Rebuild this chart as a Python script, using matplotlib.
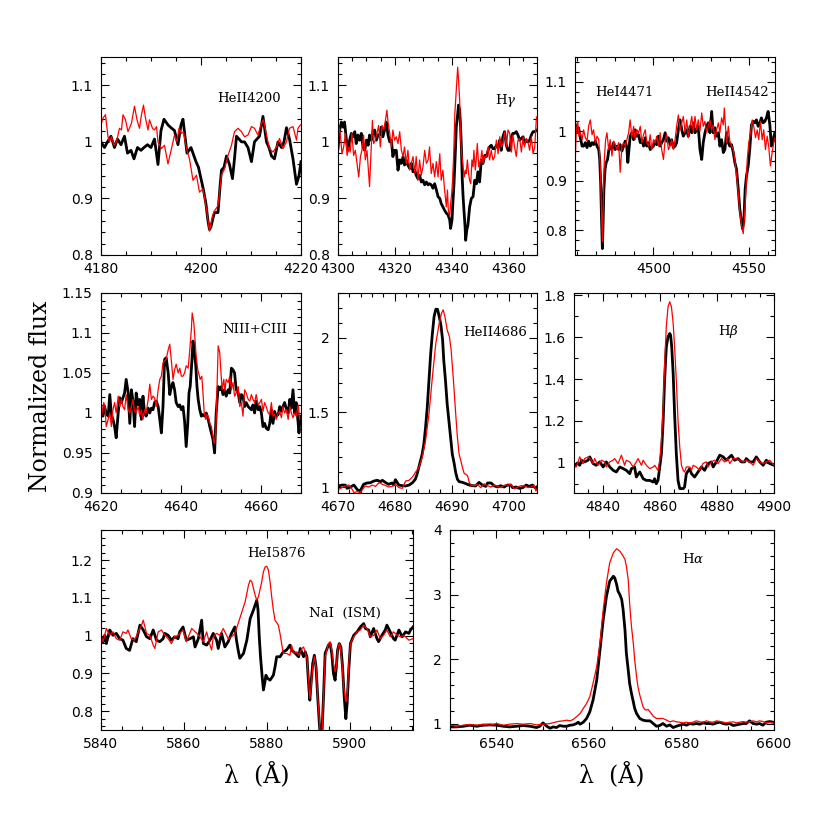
import numpy as np
import matplotlib
matplotlib.use("Agg")
import matplotlib.pyplot as plt
from matplotlib.ticker import MultipleLocator, FuncFormatter

plt.rcParams["mathtext.fontset"] = "dejavuserif"

# (wavelength, normalized flux); black = epoch 1, red = epoch 2
he4200_k = [(4180.0, 1.0), (4180.7, 0.99), (4181.3, 1.0), (4182.0, 1.01), (4182.7, 0.99), (4183.3, 1.005),
            (4184.0, 0.995), (4184.7, 1.01), (4185.3, 0.98), (4186.0, 0.985), (4186.6, 0.97), (4187.3, 0.99),
            (4188.0, 0.985), (4188.6, 0.99), (4189.3, 0.995), (4190.0, 0.99), (4190.7, 1.005), (4191.4, 0.96),
            (4192.0, 1.02), (4192.6, 1.04), (4193.4, 1.03), (4194.0, 1.025), (4194.7, 1.02), (4195.4, 0.995),
            (4196.0, 1.03), (4196.4, 1.04), (4197.2, 0.98), (4198.0, 0.99), (4198.6, 0.975), (4199.0, 0.965),
            (4199.5, 0.955), (4200.0, 0.935), (4200.5, 0.915), (4201.0, 0.89), (4201.4, 0.86), (4201.7, 0.845),
            (4202.0, 0.85), (4202.4, 0.865), (4202.7, 0.875), (4203.4, 0.875), (4203.8, 0.92), (4204.1, 0.95),
            (4204.6, 0.955), (4205.1, 0.975), (4205.7, 0.96), (4206.3, 0.935), (4206.7, 0.97), (4207.1, 1.01),
            (4207.6, 1.005), (4208.1, 1.0), (4208.7, 1.0), (4209.4, 0.99), (4210.1, 0.965), (4210.7, 1.0),
            (4211.2, 1.005), (4211.7, 1.01), (4212.4, 1.045), (4213.1, 1.0), (4213.6, 0.99), (4214.1, 0.975),
            (4214.7, 0.97), (4215.4, 1.0), (4216.1, 0.99), (4216.6, 1.0), (4217.1, 1.025), (4217.7, 1.005),
            (4218.4, 0.97), (4219.1, 0.925), (4219.6, 0.94), (4220.0, 0.965)]
he4200_r = [(4180.0, 1.03), (4180.4, 1.042), (4180.9, 1.048), (4181.4, 1.009), (4181.7, 1.0), (4182.1, 1.009),
            (4182.6, 0.994), (4183.1, 1.0), (4183.7, 1.024), (4184.1, 1.021), (4184.4, 1.048), (4184.9, 1.039),
            (4185.4, 1.018), (4186.1, 1.033), (4186.7, 1.063), (4187.2, 1.039), (4187.7, 1.024), (4188.1, 1.048),
            (4188.5, 1.065), (4188.9, 1.042), (4189.4, 1.021), (4189.7, 1.039), (4190.3, 1.024), (4190.7, 1.021),
            (4191.1, 1.027), (4191.4, 1.0), (4192.1, 0.988), (4192.7, 0.994), (4193.4, 0.961), (4194.1, 0.988),
            (4194.7, 1.012), (4195.2, 1.0), (4195.6, 1.024), (4196.1, 1.015), (4196.5, 1.018), (4197.1, 0.988),
            (4197.7, 0.97), (4198.4, 0.932), (4199.1, 0.941), (4199.7, 0.911), (4200.4, 0.917), (4201.1, 0.881),
            (4201.7, 0.842), (4202.3, 0.869), (4202.7, 0.878), (4203.4, 0.887), (4204.1, 0.941), (4204.7, 0.952),
            (4205.4, 0.976), (4206.1, 0.994), (4206.7, 1.018), (4207.4, 1.024), (4208.1, 1.018), (4208.7, 1.009),
            (4209.4, 1.012), (4210.1, 1.027), (4210.7, 1.024), (4211.4, 1.012), (4212.1, 1.033), (4212.5, 1.039),
            (4213.1, 1.012), (4213.7, 0.988), (4214.4, 0.982), (4215.1, 0.991), (4215.7, 1.006), (4216.4, 0.988),
            (4217.1, 1.0), (4217.7, 1.024), (4218.4, 1.027), (4219.1, 1.003), (4219.4, 1.024), (4219.9, 1.03)]

hg_k = [(4300.0, 0.988), (4300.6, 1.021), (4301.2, 1.035), (4301.8, 1.026), (4302.3, 1.035), (4302.9, 1.006),
        (4303.5, 0.985), (4304.1, 1.003), (4304.7, 1.015), (4305.3, 1.009), (4305.9, 1.018), (4306.4, 0.997),
        (4307.0, 1.012), (4307.6, 1.003), (4308.2, 1.015), (4308.8, 0.991), (4309.4, 0.985), (4310.0, 1.003),
        (4310.6, 0.994), (4311.1, 1.012), (4311.7, 1.003), (4312.3, 1.018), (4312.9, 1.021), (4313.5, 1.003),
        (4314.1, 1.012), (4314.7, 1.012), (4315.2, 1.026), (4315.8, 1.009), (4316.4, 1.021), (4317.0, 1.035),
        (4317.6, 1.012), (4318.2, 1.0), (4318.8, 1.003), (4319.3, 0.974), (4319.9, 0.985), (4320.5, 0.985),
        (4321.1, 0.95), (4321.7, 0.968), (4322.3, 0.962), (4322.9, 0.974), (4323.4, 0.959), (4324.0, 0.968),
        (4324.6, 0.959), (4325.2, 0.953), (4325.8, 0.962), (4326.4, 0.947), (4327.0, 0.95), (4327.5, 0.941),
        (4328.1, 0.935), (4328.7, 0.941), (4329.3, 0.929), (4329.9, 0.932), (4330.5, 0.924), (4331.1, 0.929),
        (4331.7, 0.924), (4332.2, 0.926), (4332.8, 0.924), (4333.4, 0.918), (4334.0, 0.926), (4334.6, 0.915),
        (4335.2, 0.903), (4335.8, 0.9), (4336.3, 0.891), (4336.9, 0.885), (4337.5, 0.879), (4338.1, 0.874),
        (4338.7, 0.871), (4339.3, 0.862), (4339.6, 0.847), (4340.1, 0.862), (4340.4, 0.891), (4340.8, 0.926),
        (4341.3, 0.985), (4341.6, 1.026), (4342.0, 1.044), (4342.4, 1.065), (4342.8, 1.056), (4343.1, 1.029),
        (4343.4, 0.991), (4343.7, 0.935), (4344.0, 0.903), (4344.3, 0.879), (4344.7, 0.85), (4344.9, 0.826),
        (4345.3, 0.844), (4345.7, 0.853), (4346.3, 0.885), (4346.9, 0.9), (4347.5, 0.903), (4348.1, 0.932),
        (4348.7, 0.926), (4349.2, 0.947), (4349.8, 0.929), (4350.4, 0.968), (4351.0, 0.962), (4351.6, 0.976),
        (4352.2, 0.974), (4352.8, 0.985), (4353.3, 0.991), (4353.9, 0.994), (4354.5, 0.988), (4355.1, 0.988),
        (4355.7, 0.994), (4356.3, 0.991), (4356.9, 1.003), (4357.4, 0.985), (4358.0, 1.009), (4358.6, 1.018),
        (4359.2, 0.994), (4359.8, 0.985), (4360.4, 0.985), (4361.0, 1.009), (4361.5, 1.015), (4362.1, 1.015),
        (4362.7, 1.018), (4363.3, 1.012), (4363.9, 1.003), (4364.5, 1.006), (4365.1, 1.009), (4365.6, 0.997),
        (4366.2, 1.003), (4366.8, 1.0), (4367.4, 1.003), (4368.0, 1.012), (4368.6, 1.018), (4369.2, 1.018),
        (4370.0, 1.021)]
hg_r = [(4300.0, 0.985), (4300.4, 1.026), (4300.8, 1.015), (4301.4, 0.979), (4302.0, 0.991), (4302.6, 1.015),
        (4303.2, 0.976), (4303.8, 0.991), (4304.3, 0.982), (4304.9, 1.015), (4305.5, 0.976), (4306.1, 0.985),
        (4306.7, 0.962), (4307.3, 0.938), (4307.9, 0.974), (4308.4, 0.985), (4309.0, 1.012), (4309.6, 0.968),
        (4310.2, 0.985), (4310.8, 0.941), (4311.1, 0.921), (4311.5, 0.968), (4312.1, 1.038), (4312.5, 0.997),
        (4313.1, 1.003), (4313.7, 1.015), (4314.3, 1.029), (4314.9, 0.991), (4315.5, 1.029), (4316.1, 1.021),
        (4316.6, 1.035), (4317.2, 1.056), (4317.6, 1.035), (4318.2, 1.015), (4318.8, 0.991), (4319.3, 1.021),
        (4319.9, 1.003), (4320.5, 1.009), (4321.1, 0.997), (4321.7, 1.018), (4322.3, 0.985), (4322.9, 0.974),
        (4323.4, 0.991), (4324.0, 0.962), (4324.6, 0.985), (4325.2, 0.95), (4325.8, 0.962), (4326.4, 0.974),
        (4327.0, 0.944), (4327.5, 0.974), (4328.1, 0.932), (4328.7, 0.968), (4329.3, 0.941), (4329.9, 0.956),
        (4330.5, 0.985), (4331.1, 0.962), (4331.7, 0.968), (4332.2, 0.991), (4332.8, 0.944), (4333.4, 0.962),
        (4334.0, 0.938), (4334.6, 0.965), (4335.2, 0.938), (4335.8, 0.979), (4336.3, 0.932), (4336.9, 0.95),
        (4337.5, 0.915), (4338.1, 0.885), (4338.5, 0.915), (4338.8, 0.879), (4339.3, 0.868), (4339.6, 0.891),
        (4340.0, 0.909), (4340.3, 0.932), (4340.7, 0.979), (4341.1, 1.05), (4341.6, 1.091), (4342.1, 1.132),
        (4342.4, 1.109), (4342.8, 1.074), (4343.1, 1.009), (4343.5, 0.979), (4344.0, 0.956), (4344.4, 0.938),
        (4344.8, 0.95), (4345.1, 0.944), (4345.5, 0.968), (4346.0, 0.941), (4346.3, 0.932), (4346.7, 0.926),
        (4347.1, 0.968), (4347.5, 0.956), (4347.8, 0.985), (4348.3, 0.95), (4348.7, 0.974), (4349.0, 0.997),
        (4349.5, 0.956), (4349.8, 0.962), (4350.2, 0.968), (4350.6, 0.985), (4351.0, 0.962), (4351.6, 0.974),
        (4352.2, 0.974), (4352.8, 0.991), (4353.3, 0.968), (4353.9, 0.985), (4354.5, 0.968), (4355.1, 0.974),
        (4355.7, 1.003), (4356.3, 0.979), (4356.9, 1.009), (4357.4, 0.991), (4358.0, 0.997), (4358.6, 1.018),
        (4359.2, 0.991), (4359.8, 1.021), (4360.4, 1.015), (4361.0, 0.982), (4361.5, 1.012), (4362.1, 0.991),
        (4362.7, 0.974), (4363.3, 1.003), (4363.9, 1.006), (4364.5, 0.982), (4365.1, 1.009), (4365.6, 0.991),
        (4366.2, 1.006), (4366.8, 1.0), (4367.4, 0.985), (4368.0, 1.009), (4368.6, 0.979), (4369.2, 0.991),
        (4369.8, 1.044)]

he4471_k = [(4459.2, 1.013), (4460.1, 0.997), (4460.9, 1.007), (4461.8, 0.987), (4462.7, 0.97), (4463.5, 0.97),
            (4464.4, 0.977), (4465.3, 0.967), (4466.1, 0.98), (4467.0, 0.97), (4467.9, 0.977), (4468.7, 0.973),
            (4469.6, 0.98), (4470.5, 0.97), (4471.4, 0.963), (4471.9, 0.943), (4472.4, 0.897), (4472.9, 0.817),
            (4473.3, 0.763), (4473.6, 0.803), (4474.1, 0.883), (4474.7, 0.923), (4475.3, 0.937), (4476.0, 0.943),
            (4476.7, 0.963), (4477.4, 0.97), (4478.3, 0.963), (4479.2, 0.977), (4480.0, 0.963), (4480.9, 0.97),
            (4481.8, 0.963), (4482.6, 0.973), (4483.5, 0.96), (4484.4, 0.97), (4485.2, 0.98), (4486.1, 0.967),
            (4486.6, 0.937), (4487.2, 0.963), (4487.8, 0.99), (4488.7, 0.997), (4489.6, 0.983), (4490.4, 1.003),
            (4491.3, 0.99), (4492.2, 0.993), (4493.1, 0.977), (4493.9, 0.983), (4494.8, 0.97), (4495.7, 0.987),
            (4496.5, 0.97), (4497.4, 0.977), (4498.3, 0.963), (4499.1, 0.967), (4500.0, 0.97), (4500.9, 0.98),
            (4501.7, 0.973), (4502.6, 0.99), (4503.5, 0.97), (4504.3, 0.977), (4505.2, 0.983), (4506.1, 0.997),
            (4506.9, 0.98), (4507.8, 0.987), (4508.7, 0.973), (4509.5, 0.983), (4510.4, 0.967), (4511.3, 0.97),
            (4512.1, 0.977), (4513.0, 1.003), (4513.9, 1.023), (4514.8, 1.003), (4515.6, 0.99), (4516.5, 0.997),
            (4517.4, 1.003), (4518.2, 0.99), (4519.1, 1.01), (4520.0, 0.997), (4520.8, 1.017), (4521.7, 0.997),
            (4522.6, 1.003), (4523.4, 1.01), (4524.3, 0.963), (4525.2, 0.943), (4526.0, 0.977), (4526.9, 0.997),
            (4527.8, 1.01), (4528.6, 1.017), (4529.5, 0.997), (4530.4, 1.04), (4531.2, 0.997), (4532.1, 1.007),
            (4533.0, 0.99), (4533.9, 0.997), (4534.7, 0.97), (4535.6, 0.983), (4536.5, 0.957), (4537.3, 0.963),
            (4538.2, 0.997), (4539.1, 0.977), (4539.9, 0.97), (4540.8, 0.973), (4541.7, 0.957), (4542.5, 0.937),
            (4543.4, 0.923), (4544.3, 0.883), (4545.1, 0.843), (4546.0, 0.817), (4546.5, 0.803), (4547.2, 0.817),
            (4547.9, 0.883), (4548.6, 0.91), (4549.5, 0.93), (4550.3, 0.963), (4551.2, 1.013), (4552.1, 1.02),
            (4552.9, 1.017), (4553.8, 1.023), (4554.7, 1.01), (4555.6, 1.017), (4556.4, 1.027), (4557.3, 1.017),
            (4558.2, 1.02), (4559.0, 1.027), (4559.9, 1.04), (4560.8, 1.013), (4561.6, 0.97), (4562.5, 0.983),
            (4563.4, 0.997)]
he4471_r = [(4459.2, 0.95), (4459.7, 1.003), (4460.4, 1.02), (4461.1, 0.99), (4461.8, 0.997), (4462.7, 0.983),
            (4463.5, 1.003), (4464.4, 0.987), (4465.3, 0.98), (4466.1, 1.01), (4467.0, 1.023), (4467.9, 0.993),
            (4468.7, 1.003), (4469.6, 0.977), (4470.5, 0.99), (4471.4, 0.983), (4472.2, 0.93), (4472.7, 0.863),
            (4473.3, 0.777), (4473.8, 0.857), (4474.3, 0.943), (4475.0, 0.983), (4475.7, 0.997), (4476.6, 0.963),
            (4477.4, 0.983), (4478.3, 0.95), (4479.2, 0.98), (4480.0, 0.973), (4480.9, 0.963), (4481.8, 0.977),
            (4482.6, 0.917), (4483.5, 0.97), (4484.4, 0.977), (4485.2, 0.97), (4486.1, 0.983), (4487.0, 0.997),
            (4487.8, 1.023), (4488.7, 0.987), (4489.6, 1.01), (4490.4, 0.983), (4491.3, 1.003), (4492.2, 0.997),
            (4493.1, 1.01), (4493.9, 0.977), (4494.8, 0.993), (4495.7, 1.003), (4496.5, 0.977), (4497.4, 0.97),
            (4498.3, 0.993), (4499.1, 0.963), (4500.0, 0.983), (4500.9, 0.977), (4501.7, 0.99), (4502.6, 0.97),
            (4503.5, 0.997), (4504.3, 0.963), (4505.2, 0.943), (4506.1, 0.983), (4506.9, 0.993), (4507.8, 0.963),
            (4508.7, 0.97), (4509.5, 0.983), (4510.4, 0.963), (4511.3, 0.983), (4512.1, 1.01), (4513.0, 1.033),
            (4513.9, 1.003), (4514.8, 1.017), (4515.6, 1.03), (4516.5, 0.997), (4517.4, 1.023), (4518.2, 0.987),
            (4519.1, 1.01), (4520.0, 1.03), (4520.8, 0.997), (4521.7, 1.03), (4522.6, 1.003), (4523.4, 1.023),
            (4524.3, 1.0), (4525.2, 1.037), (4526.0, 1.01), (4526.9, 1.02), (4527.8, 0.997), (4528.6, 1.01),
            (4529.5, 1.023), (4530.4, 1.003), (4531.2, 1.013), (4532.1, 0.983), (4533.0, 1.003), (4533.9, 1.017),
            (4534.7, 0.997), (4535.6, 1.027), (4536.5, 1.013), (4537.0, 1.047), (4537.5, 1.017), (4538.2, 0.977),
            (4539.1, 1.01), (4539.9, 0.98), (4540.8, 0.97), (4541.7, 0.963), (4542.5, 0.943), (4543.4, 0.91),
            (4544.3, 0.877), (4545.1, 0.837), (4546.0, 0.81), (4546.9, 0.793), (4547.6, 0.83), (4548.3, 0.883),
            (4549.0, 0.943), (4549.8, 0.977), (4550.7, 0.997), (4551.6, 1.023), (4552.4, 1.01), (4553.3, 0.987),
            (4554.2, 1.003), (4555.0, 0.983), (4555.9, 1.02), (4556.8, 0.983), (4557.6, 1.003), (4558.5, 0.963),
            (4559.4, 0.99), (4560.2, 0.97), (4561.1, 0.93), (4562.0, 0.957), (4562.9, 0.977), (4563.4, 0.987)]

niii_k = [(4620.0, 1.0), (4620.5, 0.996), (4620.9, 1.008), (4621.3, 1.0), (4621.8, 0.996), (4622.2, 1.023),
          (4622.6, 0.998), (4623.0, 0.992), (4623.4, 0.983), (4623.8, 0.969), (4624.3, 1.0), (4624.7, 1.019),
          (4625.1, 1.013), (4625.5, 1.019), (4625.9, 1.025), (4626.3, 1.042), (4626.8, 1.025), (4627.2, 0.987),
          (4627.6, 1.029), (4628.0, 1.015), (4628.4, 0.983), (4628.8, 1.025), (4629.3, 1.01), (4629.7, 1.017),
          (4630.1, 0.992), (4630.5, 1.021), (4630.9, 1.0), (4631.3, 0.996), (4631.8, 1.006), (4632.2, 1.0),
          (4632.6, 1.006), (4633.0, 1.004), (4633.4, 1.013), (4633.8, 1.015), (4634.3, 1.008), (4634.7, 0.992),
          (4635.1, 0.975), (4635.5, 1.008), (4635.9, 1.067), (4636.3, 1.069), (4636.8, 1.05), (4637.2, 1.023),
          (4637.6, 1.033), (4638.0, 1.038), (4638.4, 1.029), (4638.8, 1.013), (4639.3, 1.008), (4639.7, 1.01),
          (4640.1, 1.004), (4640.5, 1.008), (4640.9, 0.99), (4641.3, 0.958), (4641.7, 0.987), (4642.0, 1.025),
          (4642.3, 1.033), (4642.7, 1.063), (4643.0, 1.09), (4643.3, 1.079), (4643.7, 1.059), (4644.0, 1.033),
          (4644.3, 1.017), (4644.7, 1.004), (4645.1, 0.996), (4645.5, 0.998), (4645.9, 0.996), (4646.3, 1.0),
          (4646.8, 0.992), (4647.2, 0.983), (4647.6, 0.975), (4648.0, 0.967), (4648.4, 0.95), (4648.8, 1.0),
          (4649.3, 1.033), (4649.7, 1.029), (4650.1, 1.033), (4650.5, 1.023), (4650.9, 1.029), (4651.3, 1.021),
          (4651.8, 1.029), (4652.2, 1.025), (4652.6, 1.056), (4653.0, 1.054), (4653.4, 1.05), (4653.8, 1.029),
          (4654.3, 1.025), (4654.7, 1.013), (4655.1, 1.023), (4655.5, 1.021), (4655.9, 1.008), (4656.3, 1.013),
          (4656.8, 1.008), (4657.2, 1.006), (4657.6, 1.004), (4658.0, 1.01), (4658.4, 1.0), (4658.8, 1.015),
          (4659.3, 1.004), (4659.7, 1.008), (4660.1, 1.0), (4660.5, 0.983), (4660.9, 0.987), (4661.3, 0.981),
          (4661.8, 0.979), (4662.2, 0.987), (4662.6, 1.004), (4663.0, 0.987), (4663.4, 1.002), (4663.8, 0.996),
          (4664.3, 0.998), (4664.7, 1.008), (4665.1, 1.002), (4665.5, 1.008), (4665.9, 1.013), (4666.3, 1.006),
          (4666.8, 1.0), (4667.2, 1.017), (4667.6, 1.006), (4668.0, 1.029), (4668.4, 1.0), (4668.8, 1.013),
          (4669.3, 0.987), (4669.5, 0.975), (4669.8, 0.996)]
niii_r = [(4620.0, 0.99), (4620.3, 1.002), (4620.7, 1.013), (4621.0, 1.008), (4621.3, 0.983), (4621.8, 0.992),
          (4622.2, 1.0), (4622.6, 0.983), (4623.0, 1.004), (4623.4, 1.013), (4623.8, 1.0), (4624.3, 1.021),
          (4624.7, 1.008), (4625.1, 1.017), (4625.5, 1.008), (4625.9, 1.004), (4626.3, 1.023), (4626.8, 1.004),
          (4627.2, 1.0), (4627.6, 1.008), (4628.0, 1.017), (4628.4, 1.002), (4628.8, 1.0), (4629.3, 1.008),
          (4629.7, 0.996), (4630.1, 1.004), (4630.5, 0.992), (4630.9, 1.004), (4631.3, 1.0), (4631.8, 1.017),
          (4632.2, 1.036), (4632.6, 1.017), (4633.0, 1.021), (4633.4, 1.019), (4633.8, 1.008), (4634.3, 1.029),
          (4634.7, 1.042), (4635.1, 1.046), (4635.5, 1.063), (4635.9, 1.065), (4636.3, 1.067), (4636.8, 1.079),
          (4637.2, 1.086), (4637.6, 1.065), (4638.0, 1.042), (4638.4, 1.054), (4638.8, 1.061), (4639.3, 1.05),
          (4639.7, 1.056), (4640.1, 1.046), (4640.5, 1.046), (4640.9, 1.05), (4641.3, 1.059), (4641.8, 1.056),
          (4642.2, 1.079), (4642.6, 1.105), (4642.8, 1.125), (4643.2, 1.113), (4643.5, 1.092), (4643.8, 1.071),
          (4644.2, 1.054), (4644.5, 1.048), (4644.8, 1.042), (4645.2, 1.046), (4645.5, 1.025), (4645.8, 1.0),
          (4646.2, 0.992), (4646.5, 0.998), (4646.8, 0.996), (4647.2, 0.987), (4647.6, 0.983), (4648.0, 0.971),
          (4648.3, 0.962), (4648.7, 0.975), (4649.0, 1.029), (4649.3, 1.084), (4649.7, 1.075), (4650.0, 1.05),
          (4650.3, 1.029), (4650.7, 1.042), (4651.0, 1.027), (4651.3, 1.042), (4651.8, 1.038), (4652.2, 1.046),
          (4652.6, 1.029), (4653.0, 1.038), (4653.4, 1.021), (4653.8, 1.025), (4654.3, 1.033), (4654.7, 1.008),
          (4655.1, 1.013), (4655.5, 0.996), (4655.9, 1.029), (4656.3, 1.025), (4656.8, 1.017), (4657.2, 1.015),
          (4657.6, 1.023), (4658.0, 1.017), (4658.4, 1.013), (4658.8, 1.023), (4659.3, 1.01), (4659.7, 1.013),
          (4660.1, 1.017), (4660.5, 1.002), (4660.9, 1.013), (4661.3, 1.008), (4661.8, 1.0), (4662.2, 0.998),
          (4662.6, 1.013), (4663.0, 0.996), (4663.4, 0.998), (4663.8, 0.992), (4664.3, 1.0), (4664.7, 1.002),
          (4665.1, 0.994), (4665.5, 1.008), (4665.9, 1.0), (4666.3, 1.004), (4666.8, 0.992), (4667.2, 1.008),
          (4667.6, 1.0), (4668.0, 0.994), (4668.4, 1.0), (4668.8, 0.996), (4669.3, 1.01), (4669.7, 0.992)]

he4686_k = [(4670.1, 1.007), (4670.7, 1.013), (4671.3, 1.013), (4671.6, 0.991), (4672.2, 1.0), (4672.8, 1.013),
            (4673.4, 0.982), (4673.9, 0.973), (4674.5, 1.018), (4675.1, 1.027), (4675.7, 1.029), (4676.3, 1.04),
            (4676.9, 1.045), (4677.5, 1.036), (4677.8, 1.045), (4678.4, 1.029), (4678.9, 1.018), (4679.5, 1.027),
            (4679.8, 1.013), (4680.1, 1.049), (4680.7, 1.013), (4681.3, 1.009), (4681.9, 1.007), (4682.5, 1.013),
            (4683.1, 1.029), (4683.6, 1.052), (4683.9, 1.085), (4684.2, 1.13), (4684.5, 1.175), (4684.8, 1.22),
            (4685.1, 1.288), (4685.4, 1.4), (4685.7, 1.535), (4686.0, 1.715), (4686.3, 1.894), (4686.6, 2.029),
            (4686.9, 2.142), (4687.2, 2.191), (4687.5, 2.191), (4687.6, 2.175), (4687.8, 2.142), (4688.1, 2.085),
            (4688.4, 1.984), (4688.6, 1.849), (4688.9, 1.715), (4689.2, 1.557), (4689.5, 1.445), (4689.8, 1.333),
            (4690.1, 1.22), (4690.4, 1.164), (4690.7, 1.097), (4691.0, 1.052), (4691.3, 1.036), (4691.9, 1.031),
            (4692.5, 1.022), (4693.1, 1.013), (4693.6, 1.009), (4694.2, 1.007), (4694.8, 1.031), (4695.4, 1.013),
            (4696.0, 1.004), (4696.3, 1.027), (4696.9, 1.027), (4697.5, 1.007), (4698.1, 1.0), (4698.6, 1.009),
            (4699.2, 1.0), (4699.8, 1.013), (4700.4, 1.013), (4700.7, 0.996), (4701.3, 1.0), (4701.9, 0.991),
            (4702.5, 0.996), (4703.1, 1.013), (4703.6, 1.004), (4704.2, 1.013), (4704.8, 0.991), (4705.2, 1.009)]
he4686_r = [(4670.1, 0.984), (4670.7, 0.996), (4671.3, 1.007), (4671.9, 1.013), (4672.2, 1.0), (4672.5, 0.984),
            (4672.8, 0.962), (4673.4, 0.969), (4673.9, 0.962), (4674.2, 0.978), (4674.8, 1.007), (4675.4, 1.0),
            (4676.0, 1.013), (4676.6, 1.004), (4677.2, 1.029), (4677.8, 1.018), (4678.4, 1.009), (4678.9, 1.0),
            (4679.5, 1.004), (4680.1, 1.018), (4680.7, 0.996), (4681.3, 0.991), (4681.9, 1.04), (4682.5, 1.045),
            (4683.1, 1.067), (4683.6, 1.097), (4684.2, 1.13), (4684.8, 1.198), (4685.4, 1.31), (4686.0, 1.49),
            (4686.6, 1.737), (4687.2, 1.962), (4687.8, 2.097), (4688.2, 2.164), (4688.5, 2.187), (4688.8, 2.142),
            (4689.2, 2.052), (4689.6, 2.007), (4689.9, 1.917), (4690.3, 1.715), (4690.7, 1.49), (4691.0, 1.333),
            (4691.3, 1.22), (4691.6, 1.175), (4691.9, 1.13), (4692.2, 1.09), (4692.5, 1.085), (4692.8, 1.074),
            (4693.1, 1.029), (4693.4, 1.013), (4693.9, 1.007), (4694.5, 1.018), (4695.1, 0.996), (4695.7, 1.022),
            (4696.3, 1.009), (4696.9, 1.0), (4697.5, 1.013), (4698.1, 1.004), (4698.6, 0.996), (4699.2, 1.011),
            (4699.8, 1.013), (4700.4, 1.018), (4701.0, 0.987), (4701.6, 1.0), (4702.2, 1.009), (4702.8, 1.007),
            (4703.4, 0.996), (4703.9, 1.0), (4704.5, 1.013), (4704.8, 0.973), (4705.2, 1.0)]

hb_k = [(4830.0, 0.981), (4831.2, 1.0), (4832.0, 0.989), (4832.6, 1.013), (4833.7, 1.005), (4834.9, 1.013),
        (4835.5, 1.029), (4836.7, 0.997), (4837.8, 0.989), (4839.0, 1.005), (4840.2, 0.981), (4841.3, 1.005),
        (4842.5, 0.981), (4843.7, 0.965), (4844.8, 0.957), (4846.0, 0.981), (4847.2, 0.973), (4848.3, 0.965),
        (4849.5, 0.949), (4850.1, 0.973), (4851.2, 0.981), (4851.8, 0.933), (4853.0, 0.957), (4854.2, 0.925),
        (4855.3, 0.917), (4856.5, 0.917), (4857.7, 0.909), (4858.2, 0.925), (4858.8, 0.901), (4859.4, 0.917),
        (4860.0, 0.981), (4860.6, 1.045), (4861.2, 1.203), (4861.7, 1.394), (4862.3, 1.553), (4862.9, 1.601),
        (4863.5, 1.617), (4863.8, 1.609), (4864.2, 1.553), (4864.7, 1.426), (4865.2, 1.235), (4865.8, 1.045),
        (4866.4, 0.917), (4867.0, 0.878), (4868.2, 0.878), (4868.7, 0.886), (4869.3, 0.949), (4870.5, 0.973),
        (4871.1, 0.949), (4872.2, 0.933), (4873.4, 0.957), (4874.6, 0.981), (4875.7, 0.965), (4876.9, 0.997),
        (4878.1, 1.005), (4878.7, 0.981), (4879.8, 1.005), (4881.0, 1.037), (4882.2, 1.029), (4883.3, 1.013),
        (4884.5, 1.029), (4885.1, 1.037), (4886.2, 1.013), (4887.4, 1.021), (4888.6, 1.005), (4889.7, 1.005),
        (4890.3, 1.021), (4891.5, 1.005), (4892.7, 1.005), (4893.8, 1.029), (4895.0, 1.005), (4896.2, 0.989),
        (4897.3, 1.013), (4898.5, 0.997), (4900.0, 0.989)]
hb_r = [(4830.0, 0.989), (4830.8, 0.981), (4832.0, 1.029), (4833.2, 0.997), (4833.7, 1.021), (4834.9, 1.029),
        (4836.1, 1.013), (4836.7, 0.997), (4837.2, 1.021), (4838.4, 0.989), (4839.6, 1.013), (4840.7, 1.005),
        (4841.3, 0.981), (4842.5, 1.005), (4843.7, 1.013), (4844.2, 1.021), (4845.4, 0.997), (4846.6, 1.037),
        (4847.7, 0.989), (4848.3, 1.013), (4849.5, 1.005), (4850.7, 0.981), (4851.8, 1.005), (4852.4, 1.021),
        (4853.6, 0.989), (4854.2, 1.013), (4855.3, 0.989), (4856.5, 0.973), (4857.7, 0.981), (4858.2, 0.989),
        (4859.4, 0.965), (4860.0, 1.013), (4860.6, 1.108), (4861.2, 1.267), (4861.7, 1.474), (4862.3, 1.649),
        (4862.9, 1.744), (4863.5, 1.768), (4864.1, 1.744), (4864.7, 1.665), (4865.2, 1.553), (4865.8, 1.394),
        (4866.4, 1.203), (4867.0, 1.076), (4867.6, 0.989), (4868.2, 0.965), (4868.7, 0.957), (4869.3, 0.981),
        (4870.5, 0.981), (4871.1, 0.965), (4871.7, 0.989), (4872.8, 0.981), (4874.0, 0.965), (4875.1, 0.997),
        (4876.3, 1.005), (4876.9, 0.981), (4878.1, 1.005), (4879.2, 1.013), (4880.4, 0.997), (4881.6, 1.021),
        (4882.7, 1.005), (4883.9, 1.021), (4884.5, 0.997), (4885.7, 1.021), (4886.8, 1.021), (4888.0, 1.013),
        (4889.2, 1.005), (4890.3, 1.013), (4891.5, 1.005), (4892.7, 0.989), (4893.8, 1.021), (4895.0, 1.005),
        (4896.2, 0.997), (4897.3, 1.005), (4898.5, 1.013), (4900.0, 0.989)]

he5876_k = [(5840.0, 0.997), (5840.5, 0.984), (5840.9, 1.001), (5841.3, 0.979), (5842.1, 1.015), (5842.9, 1.001),
            (5843.7, 1.006), (5844.5, 0.992), (5845.3, 0.988), (5846.1, 0.966), (5846.9, 0.961), (5847.7, 0.992),
            (5848.5, 0.984), (5849.4, 1.028), (5850.2, 1.015), (5851.0, 0.997), (5851.8, 0.992), (5852.6, 1.015),
            (5853.4, 0.988), (5854.2, 0.984), (5855.0, 0.992), (5855.4, 1.006), (5856.2, 1.001), (5857.0, 0.988),
            (5857.8, 0.997), (5858.6, 0.992), (5859.0, 1.01), (5859.8, 1.023), (5860.6, 0.988), (5861.5, 0.992),
            (5862.3, 0.997), (5862.7, 0.97), (5863.5, 0.992), (5864.3, 1.041), (5864.7, 0.979), (5865.5, 0.975),
            (5866.3, 0.988), (5867.1, 1.006), (5867.9, 0.988), (5868.3, 0.966), (5869.1, 1.006), (5869.9, 0.97),
            (5870.7, 0.984), (5871.5, 1.006), (5872.3, 1.023), (5872.7, 0.988), (5873.1, 0.962), (5873.5, 0.94),
            (5874.4, 0.953), (5875.2, 0.988), (5876.0, 1.045), (5876.8, 1.068), (5877.6, 1.094), (5877.9, 1.068),
            (5878.2, 0.997), (5878.5, 0.944), (5878.9, 0.891), (5879.2, 0.856), (5879.5, 0.873), (5879.8, 0.895),
            (5880.2, 0.887), (5880.8, 0.882), (5881.6, 0.895), (5882.0, 0.917), (5882.4, 0.944), (5883.2, 0.944),
            (5884.0, 0.957), (5884.8, 0.962), (5885.6, 0.975), (5886.0, 0.962), (5886.9, 0.953), (5887.7, 0.944),
            (5888.1, 0.966), (5888.9, 0.944), (5889.3, 0.957), (5889.7, 0.944), (5890.1, 0.873), (5890.4, 0.829),
            (5890.7, 0.873), (5891.1, 0.926), (5891.5, 0.948), (5891.9, 0.917), (5892.3, 0.838), (5892.7, 0.767),
            (5893.0, 0.723), (5893.3, 0.732), (5893.7, 0.838), (5894.1, 0.953), (5894.9, 0.975), (5895.3, 0.979),
            (5895.7, 0.953), (5896.1, 0.9), (5896.5, 0.882), (5896.8, 0.917), (5897.1, 0.962), (5897.5, 0.979),
            (5897.9, 0.97), (5898.3, 0.917), (5898.7, 0.838), (5899.1, 0.78), (5899.4, 0.82), (5899.8, 0.909),
            (5900.2, 0.979), (5901.0, 1.001), (5901.8, 1.01), (5902.6, 1.023), (5903.4, 1.032), (5903.8, 1.019),
            (5904.6, 1.015), (5905.0, 0.997), (5905.8, 1.019), (5906.6, 0.992), (5907.0, 0.984), (5907.8, 1.001),
            (5908.6, 1.015), (5909.0, 1.028), (5909.8, 1.01), (5910.6, 0.992), (5911.0, 0.988), (5911.9, 1.015),
            (5912.7, 0.997), (5913.5, 1.01), (5914.3, 1.006), (5914.7, 1.015), (5915.3, 1.023)]
he5876_r = [(5840.0, 1.001), (5840.5, 0.984), (5841.3, 1.019), (5842.1, 1.001), (5842.9, 1.01), (5843.7, 0.992),
            (5844.5, 0.988), (5845.3, 1.01), (5846.1, 1.006), (5846.5, 1.015), (5847.3, 0.992), (5848.1, 0.988),
            (5849.0, 1.01), (5849.8, 1.028), (5850.2, 1.041), (5851.0, 1.006), (5851.8, 1.001), (5852.6, 0.975),
            (5853.0, 0.966), (5853.8, 1.01), (5854.6, 1.015), (5855.4, 1.001), (5856.2, 0.992), (5857.0, 0.979),
            (5857.8, 0.997), (5858.6, 1.001), (5859.8, 1.015), (5860.6, 0.984), (5861.9, 1.019), (5863.1, 1.006),
            (5863.9, 0.997), (5864.7, 0.984), (5865.5, 1.01), (5866.3, 0.975), (5866.7, 0.962), (5867.1, 0.997),
            (5867.9, 1.006), (5868.7, 1.001), (5869.5, 1.019), (5870.3, 1.001), (5870.7, 0.992), (5871.5, 0.997),
            (5872.3, 1.006), (5873.1, 1.032), (5874.0, 1.063), (5874.8, 1.09), (5875.6, 1.134), (5876.0, 1.147),
            (5876.4, 1.143), (5877.2, 1.107), (5877.6, 1.094), (5878.0, 1.103), (5878.8, 1.143), (5879.2, 1.169),
            (5879.6, 1.182), (5880.0, 1.184), (5880.4, 1.174), (5880.8, 1.143), (5881.2, 1.103), (5881.6, 1.068),
            (5882.0, 1.041), (5882.8, 1.028), (5883.2, 1.006), (5883.6, 0.979), (5884.0, 0.953), (5884.8, 0.953),
            (5885.6, 0.948), (5886.0, 0.975), (5886.5, 0.953), (5887.3, 0.957), (5887.7, 0.948), (5888.5, 0.966),
            (5888.9, 0.97), (5889.7, 0.94), (5890.1, 0.882), (5890.4, 0.834), (5890.7, 0.864), (5891.1, 0.917),
            (5891.5, 0.944), (5891.9, 0.917), (5892.3, 0.838), (5892.7, 0.776), (5893.0, 0.723), (5893.3, 0.732),
            (5893.7, 0.838), (5894.1, 0.944), (5894.9, 0.979), (5895.3, 0.984), (5895.7, 0.962), (5896.1, 0.926),
            (5896.5, 0.904), (5896.8, 0.917), (5897.1, 0.962), (5897.5, 0.979), (5897.7, 0.975), (5898.1, 0.935),
            (5898.5, 0.873), (5899.0, 0.829), (5899.2, 0.825), (5899.5, 0.856), (5899.8, 0.926), (5900.2, 0.979),
            (5901.0, 0.997), (5901.8, 1.01), (5902.6, 1.015), (5903.4, 1.028), (5904.2, 1.019), (5905.0, 0.997),
            (5905.8, 1.001), (5906.6, 1.015), (5907.4, 0.992), (5908.2, 1.001), (5909.0, 1.015), (5909.8, 0.997),
            (5910.6, 1.01), (5911.5, 1.001), (5912.3, 0.997), (5913.1, 1.001), (5914.3, 0.988), (5915.3, 0.992)]

ha_k = [(6530.0, 0.948), (6531.4, 0.948), (6532.9, 0.958), (6534.3, 0.974), (6535.8, 0.958), (6537.2, 0.974),
        (6538.6, 0.979), (6540.1, 0.974), (6541.5, 0.958), (6542.9, 0.948), (6544.4, 0.958), (6545.8, 0.969),
        (6547.3, 0.958), (6548.7, 0.938), (6549.4, 0.958), (6550.1, 1.01), (6550.9, 0.958), (6551.6, 0.927),
        (6552.3, 0.948), (6553.0, 0.938), (6553.7, 0.969), (6554.5, 0.958), (6555.2, 0.958), (6555.9, 0.974),
        (6556.6, 0.979), (6557.3, 1.0), (6557.7, 1.021), (6558.1, 0.99), (6558.8, 1.021), (6559.5, 1.078),
        (6560.2, 1.182), (6560.9, 1.363), (6561.7, 1.675), (6562.4, 2.142), (6563.1, 2.609), (6563.8, 2.972),
        (6564.5, 3.206), (6565.3, 3.283), (6565.6, 3.257), (6566.0, 3.154), (6566.3, 3.05), (6566.7, 2.998),
        (6567.1, 2.92), (6567.4, 2.764), (6567.8, 2.453), (6568.1, 2.09), (6568.5, 1.83), (6568.8, 1.623),
        (6569.2, 1.467), (6569.6, 1.337), (6569.9, 1.234), (6570.3, 1.156), (6571.0, 1.078), (6571.7, 1.052),
        (6572.4, 1.042), (6573.2, 1.042), (6573.9, 1.0), (6574.6, 0.958), (6575.3, 0.969), (6576.0, 1.0),
        (6576.8, 0.958), (6577.5, 0.979), (6578.2, 0.938), (6578.9, 0.958), (6579.6, 0.974), (6580.4, 0.99),
        (6581.1, 0.974), (6581.8, 1.0), (6582.5, 0.99), (6583.2, 1.0), (6584.0, 0.99), (6584.7, 1.01),
        (6585.4, 1.0), (6586.1, 1.0), (6586.8, 0.99), (6587.6, 1.01), (6588.3, 1.021), (6589.0, 1.0),
        (6589.7, 0.99), (6590.4, 1.0), (6591.2, 0.969), (6591.9, 0.979), (6592.6, 0.99), (6593.3, 1.0),
        (6594.0, 1.0), (6594.7, 1.042), (6595.5, 1.0), (6596.2, 0.99), (6596.9, 1.0), (6597.6, 0.974),
        (6598.3, 1.021), (6599.1, 1.031), (6599.8, 1.021)]
ha_r = [(6530.0, 0.974), (6531.4, 0.958), (6532.9, 0.974), (6534.3, 0.984), (6535.8, 0.974), (6537.2, 0.99),
        (6538.6, 0.974), (6540.1, 1.0), (6541.5, 0.974), (6542.9, 0.99), (6544.4, 1.0), (6545.8, 0.99),
        (6547.3, 1.0), (6548.7, 0.979), (6550.1, 0.99), (6551.6, 1.0), (6553.0, 1.026), (6553.7, 1.036),
        (6554.5, 1.042), (6555.2, 1.052), (6555.9, 1.042), (6556.6, 1.062), (6557.3, 1.104), (6558.1, 1.156),
        (6558.8, 1.234), (6559.5, 1.311), (6560.2, 1.415), (6560.9, 1.623), (6561.7, 1.882), (6562.4, 2.245),
        (6563.1, 2.764), (6563.8, 3.18), (6564.5, 3.491), (6565.3, 3.647), (6566.0, 3.709), (6566.7, 3.673),
        (6567.4, 3.595), (6567.8, 3.543), (6568.1, 3.439), (6568.5, 3.231), (6568.8, 2.868), (6569.2, 2.505),
        (6569.6, 2.245), (6569.9, 1.986), (6570.3, 1.727), (6570.6, 1.571), (6571.0, 1.441), (6571.4, 1.337),
        (6571.7, 1.259), (6572.1, 1.218), (6572.4, 1.208), (6572.8, 1.218), (6573.2, 1.182), (6573.9, 1.114),
        (6574.6, 1.078), (6575.3, 1.078), (6576.0, 1.078), (6576.8, 1.052), (6577.5, 1.026), (6578.2, 1.042),
        (6578.9, 1.026), (6579.6, 1.021), (6580.4, 1.01), (6581.1, 1.021), (6581.8, 1.01), (6582.5, 1.021),
        (6583.2, 1.042), (6584.0, 1.026), (6584.7, 1.021), (6585.4, 1.042), (6586.1, 1.026), (6586.8, 1.021),
        (6587.6, 1.042), (6588.3, 1.031), (6589.0, 1.021), (6589.7, 1.01), (6590.4, 1.021), (6591.2, 1.026),
        (6591.9, 1.01), (6592.6, 1.021), (6593.3, 1.031), (6594.0, 1.021), (6594.7, 1.026), (6595.5, 1.042),
        (6596.2, 1.026), (6596.9, 1.042), (6597.6, 1.031), (6598.3, 1.01), (6599.1, 1.021), (6599.8, 1.01)]

# panel layout: rect (fig fraction), xlim, ylim, x major/minor, y major/minor, data, labels
panels = [
    ([0.1236, 0.6879, 0.2448, 0.2423], (4180, 4220), (0.8, 1.15), 20, 5, 0.1, 0.02, he4200_k, he4200_r,
     [("HeII4200", 0.58, 0.79)]),
    ([0.4137, 0.6879, 0.2436, 0.2423], (4300, 4370), (0.8, 1.15), 20, 5, 0.1, 0.02, hg_k, hg_r,
     [(r"H$\gamma$", 0.79, 0.78)]),
    ([0.7038, 0.6879, 0.2448, 0.2423], (4459, 4563.5), (0.75, 1.15), 50, 10, 0.1, 0.02, he4471_k, he4471_r,
     [("HeI4471", 0.10, 0.82), ("HeII4542", 0.65, 0.82)]),
    ([0.1236, 0.3966, 0.2448, 0.2448], (4620, 4670), (0.9, 1.15), 20, 5, 0.05, 0.01, niii_k, niii_r,
     [("NIII+CIII", 0.605, 0.815)]),
    ([0.4137, 0.3966, 0.2436, 0.2448], (4670, 4705), (0.96, 2.3), 10, 2, 0.5, 0.1, he4686_k, he4686_r,
     [("HeII4686", 0.63, 0.80)]),
    ([0.7026, 0.3966, 0.2448, 0.2448], (4830, 4900), (0.857, 1.81), 20, 5, 0.2, 0.1, hb_k, hb_r,
     [(r"H$\beta$", 0.72, 0.805)]),
    ([0.1236, 0.1065, 0.3819, 0.2448], (5840, 5915.3), (0.75, 1.28), 20, 5, 0.1, 0.02, he5876_k, he5876_r,
     [("HeI5876", 0.468, 0.884), ("NaI  (ISM)", 0.667, 0.583)]),
    ([0.5508, 0.1065, 0.3966, 0.2448], (6530, 6600), (0.9, 4.0), 20, 5, 1, 0.2, ha_k, ha_r,
     [(r"H$\alpha$", 0.716, 0.855)]),
]

fig = plt.figure(figsize=(8.17, 8.17), dpi=100)
fmt = FuncFormatter(lambda v, p: "%g" % round(v, 4))

for rect, xl, yl, xmaj, xmin, ymaj, ymin, blk, red, labels in panels:
    ax = fig.add_axes(rect)
    b = np.array(blk)
    r = np.array(red)
    ax.plot(b[:, 0], b[:, 1], color="black", lw=2.0)
    ax.plot(r[:, 0], r[:, 1], color="red", lw=0.9)
    ax.set_xlim(*xl)
    ax.set_ylim(*yl)
    ax.xaxis.set_major_locator(MultipleLocator(xmaj))
    ax.xaxis.set_minor_locator(MultipleLocator(xmin))
    ax.yaxis.set_major_locator(MultipleLocator(ymaj))
    ax.yaxis.set_minor_locator(MultipleLocator(ymin))
    ax.xaxis.set_major_formatter(fmt)
    ax.yaxis.set_major_formatter(fmt)
    ax.tick_params(which="both", direction="in", top=True, right=True, width=0.8)
    ax.tick_params(which="major", length=6, labelsize=10)
    ax.tick_params(which="minor", length=3)
    ax.tick_params(axis="y", which="major", pad=6)
    ax.tick_params(axis="x", which="major", pad=5)
    for lab in ax.get_xticklabels() + ax.get_yticklabels():
        lab.set_family("DejaVu Sans")
    for txt, tx, ty in labels:
        ax.text(tx, ty, txt, transform=ax.transAxes, ha="left", va="center",
                family="DejaVu Serif", fontsize=9.5)

fig.text(0.05, 0.515, "Normalized flux", rotation=90, ha="center", va="center",
         family="DejaVu Serif", fontsize=17)
fig.text(0.314, 0.051, "λ  (Å)", ha="center", va="center", family="DejaVu Serif", fontsize=17)
fig.text(0.749, 0.051, "λ  (Å)", ha="center", va="center", family="DejaVu Serif", fontsize=17)

fig.savefig("out.png", dpi=100)
